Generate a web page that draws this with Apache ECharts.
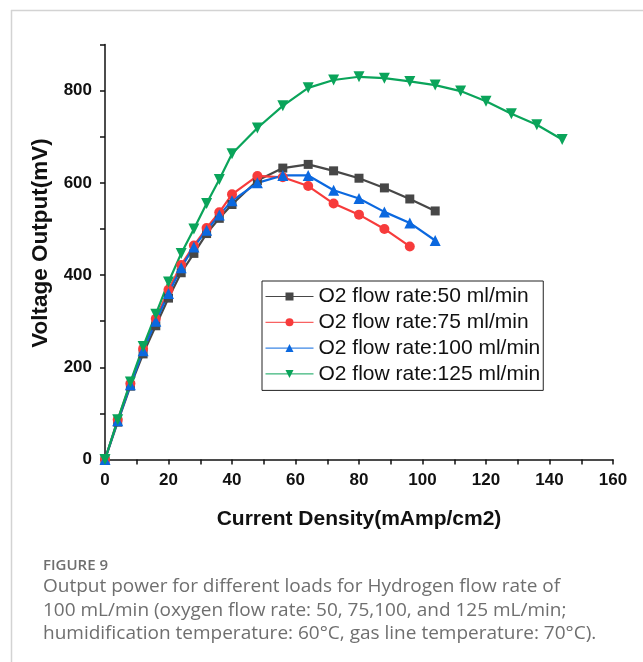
<!DOCTYPE html>
<html>
<head>
<meta charset="utf-8">
<script src="https://cdn.jsdelivr.net/npm/echarts@6/dist/echarts.min.js"></script>
<style>
  html, body { margin: 0; padding: 0; background: #fff; }
  #chart { width: 643px; height: 662px; }
</style>
</head>
<body>
<div id="chart"></div>
<script>
// Current density (mAmp/cm2) sampled for each oxygen flow rate
const xLow = [0, 4, 8, 12, 16, 20, 24, 28, 32, 36, 40];
const x50 = xLow.concat([48, 56, 64, 72, 80, 88, 96, 104]);
const x75 = xLow.concat([48, 56, 64, 72, 80, 88, 96]);
const x100 = xLow.concat([48, 56, 64, 72, 80, 88, 96, 104]);
const x125 = xLow.concat([48, 56, 64, 72, 80, 88, 96, 104, 112, 120, 128, 136, 144]);

// Voltage output (mV)
const v50 = [0, 81, 159, 229, 290, 350, 405, 447, 490, 523, 553, 605, 632, 640, 626, 610, 589, 565, 539];
const v75 = [0, 86, 165, 240, 305, 368, 422, 464, 502, 536, 575, 615, 612, 593, 555, 531, 500, 462];
const v100 = [0, 84, 162, 236, 300, 360, 416, 461, 497, 530, 561, 600, 616, 616, 584, 566, 537, 513, 475];
const v125 = [0, 86, 168, 245, 315, 385, 447, 500, 555, 607, 663, 719, 767, 806, 823, 830, 827, 820, 812, 799, 777, 750, 726, 694];

const seriesNames = [
  'O2 flow rate:50 ml/min',
  'O2 flow rate:75 ml/min',
  'O2 flow rate:100 ml/min',
  'O2 flow rate:125 ml/min'
];

const captionTitle = 'FIGURE 9';
const captionLines = [
  'Output power for different loads for Hydrogen flow rate of',
  '100 mL/min (oxygen flow rate: 50, 75,100, and 125 mL/min;',
  'humidification temperature: 60°C, gas line temperature: 70°C).'
];

const pairs = (xs, ys) => xs.map((x, i) => [x, ys[i]]);

const chart = echarts.init(document.getElementById('chart'), null, { renderer: 'canvas' });

const boldFont = { fontFamily: '"Liberation Sans", Arial, sans-serif', fontWeight: 'bold', color: '#111' };

function lineSeries(name, data, color, symbol, size, rotate) {
  return {
    name: name,
    type: 'line',
    data: data,
    symbol: symbol,
    symbolSize: size,
    symbolRotate: rotate || 0,
    showAllSymbol: true,
    clip: false,
    lineStyle: { color: color, width: 2.2 },
    itemStyle: { color: color, borderWidth: 0 },
    emphasis: { disabled: true },
    animation: false
  };
}

const option = {
  animation: false,
  backgroundColor: '#fff',
  grid: { left: 105, right: 30, top: 44.5, bottom: 202.5, containLabel: false },
  legend: {
    orient: 'vertical',
    left: 262,
    top: 281,
    padding: [5, 3, 6, 3],
    itemGap: 4.8,
    itemWidth: 48,
    itemHeight: 10,
    backgroundColor: '#fff',
    borderColor: '#222',
    borderWidth: 1,
    borderRadius: 0,
    lineStyle: { width: 1 },
    textStyle: { fontFamily: '"Liberation Sans", Arial, sans-serif', fontSize: 21, lineHeight: 21, color: '#111' },
    data: seriesNames
  },
  xAxis: {
    type: 'value',
    min: 0,
    max: 160,
    interval: 10,
    name: 'Current Density(mAmp/cm2)',
    nameLocation: 'middle',
    nameGap: 49,
    nameTextStyle: Object.assign({ fontSize: 21 }, boldFont),
    axisLine: { show: true, onZero: false, lineStyle: { color: '#111', width: 1.5 } },
    axisTick: { show: true, inside: false, length: 5, lineStyle: { color: '#111', width: 1.5 } },
    axisLabel: {
      margin: 12,
      fontSize: 17,
      ...boldFont,
      formatter: v => (v % 20 === 0 ? String(v) : '')
    },
    splitLine: { show: false }
  },
  yAxis: {
    type: 'value',
    min: 0,
    max: 900,
    interval: 100,
    name: 'Voltage Output(mV)',
    nameLocation: 'middle',
    nameGap: 49,
    nameTextStyle: Object.assign({ fontSize: 22.5, padding: [0, 0, 0, 18] }, boldFont),
    axisLine: { show: true, onZero: false, lineStyle: { color: '#111', width: 1.5 } },
    axisTick: { show: true, inside: false, length: 5, lineStyle: { color: '#111', width: 1.5 } },
    axisLabel: {
      margin: 13,
      fontSize: 17,
      ...boldFont,
      formatter: v => (v % 200 === 0 ? String(v) : '')
    },
    splitLine: { show: false }
  },
  series: [
    lineSeries(seriesNames[0], pairs(x50, v50), '#474747', 'rect', 9),
    lineSeries(seriesNames[1], pairs(x75, v75), '#f73b3b', 'circle', 10),
    lineSeries(seriesNames[2], pairs(x100, v100), '#0b68df', 'triangle', 11),
    lineSeries(seriesNames[3], pairs(x125, v125), '#0aa45a', 'triangle', 11, 180)
  ],
  graphic: [
    // figure frame: top and left rules
    { type: 'line', silent: true, shape: { x1: 11, y1: 10.5, x2: 643, y2: 10.5 }, style: { stroke: '#d3d3d3', lineWidth: 1.5 } },
    { type: 'line', silent: true, shape: { x1: 11.5, y1: 10, x2: 11.5, y2: 662 }, style: { stroke: '#d3d3d3', lineWidth: 1.5 } },
    {
      type: 'text', silent: true, left: 43, top: 558,
      style: { text: captionTitle, fill: '#6f6f6f', font: '600 15px "Open Sans", "Noto Sans", sans-serif' }
    },
    {
      type: 'text', silent: true, left: 43, top: 575,
      style: {
        text: captionLines.join('\n'),
        fill: '#6f6f6f',
        lineHeight: 23.5,
        font: '19px "Open Sans", "Noto Sans", sans-serif'
      }
    }
  ]
};

chart.setOption(option);
</script>
</body>
</html>
